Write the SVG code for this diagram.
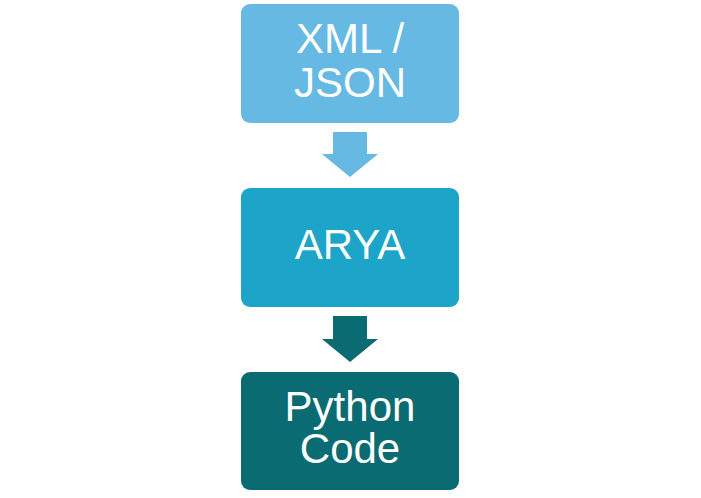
<svg xmlns="http://www.w3.org/2000/svg" width="701" height="498" viewBox="0 0 701 498">
<style>
.box{stroke:none}
.t{font-family:"Liberation Sans",Arial,sans-serif;font-size:42px;fill:#ffffff;text-anchor:middle}
</style>
<rect width="701" height="498" fill="#ffffff"/>
<g id="connectors">
<polygon points="333,132 367,132 367,154 378,154 350,177 322,154 333,154" fill="#66B9E2"/>
<polygon points="333,316 367,316 367,339 378,339 350,362 322,339 333,339" fill="#0B6B72"/>
</g>
<g id="xml-json">
<rect class="box" x="241" y="4" width="218" height="119" rx="9" fill="#66B9E2"/>
<text class="t" x="350" y="53">XML /</text>
<text class="t" x="350" y="97">JSON</text>
</g>
<g id="arya">
<rect class="box" x="241" y="188" width="218" height="119" rx="9" fill="#1CA5C8"/>
<text class="t" x="350" y="259">ARYA</text>
</g>
<g id="python-code">
<rect class="box" x="241" y="372" width="218" height="118" rx="9" fill="#0B6B72"/>
<text class="t" x="350" y="421">Python</text>
<text class="t" x="350" y="463">Code</text>
</g>
</svg>
